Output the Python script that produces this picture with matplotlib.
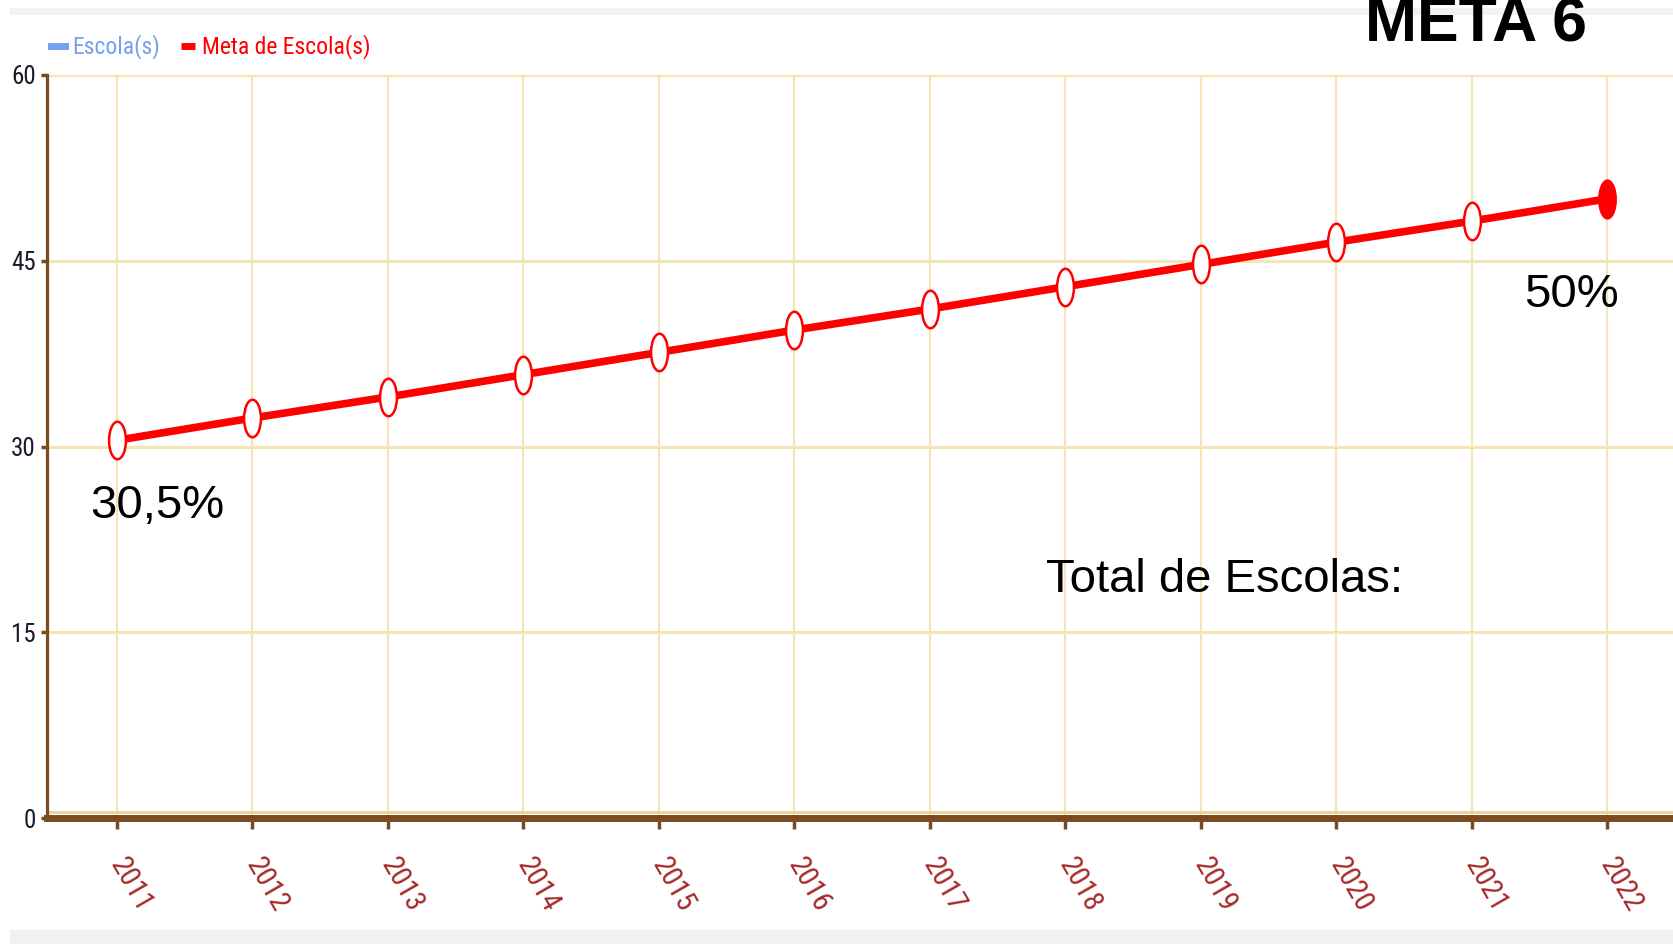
import matplotlib
matplotlib.use("Agg")
import matplotlib.pyplot as plt
from matplotlib.path import Path
from matplotlib.transforms import Affine2D
from matplotlib.patches import Rectangle

# ---- data ----
years = [2011, 2012, 2013, 2014, 2015, 2016, 2017, 2018, 2019, 2020, 2021, 2022]
meta_values = [30.5, 32.3, 34.0, 35.8, 37.6, 39.4, 41.1, 42.9, 44.7, 46.5, 48.2, 50.0]
escola_values = []          # no school values drawn
y_ticks = [0, 15, 30, 45, 60]
series_labels = ["Escola(s)", "Meta de Escola(s)"]
title_text = "META 6"
first_label = "30,5%"
last_label = "50%"
total_label = "Total de Escolas:"

W, H, DPI = 1674, 944, 100
fig = plt.figure(figsize=(W / DPI, H / DPI), dpi=DPI, facecolor="white")

# background bands
fig.patches.append(Rectangle((10 / W, 1 - 15 / H), 1, 7 / H, transform=fig.transFigure,
                             facecolor="#f2f2f2", edgecolor="none", zorder=0))
fig.patches.append(Rectangle((10 / W, 0), 1, 14 / H, transform=fig.transFigure,
                             facecolor="#f2f2f2", edgecolor="none", zorder=0))

ax_left, ax_right = 47 / W, 1.0
ax_top, ax_bottom = 1 - 75 / H, 1 - 818 / H
ax = fig.add_axes([ax_left, ax_bottom, ax_right - ax_left, ax_top - ax_bottom])
ax.set_facecolor("white")

px_per_year = 135.5
ax.set_xlim(2011 - (117 - 47) / px_per_year, 2022 + (1674 - 1607) / px_per_year)
ax.set_ylim(0, 60)

grid_c = "#f5e4b6"
ax.set_xticks(years)
ax.set_yticks(y_ticks)
for y in y_ticks[1:]:
    ax.axhline(y, color=grid_c, lw=2.2 if y < 60 else 3, zorder=1)
for x in years:
    ax.axvline(x, color=grid_c, lw=1.5, zorder=1)

brown = "#7b4a1e"
for s in ["top", "right"]:
    ax.spines[s].set_visible(False)
ax.spines["left"].set_color(brown)
ax.spines["left"].set_linewidth(2.3)
ax.spines["bottom"].set_color(brown)
ax.spines["bottom"].set_linewidth(5)
ax.axhline(0.45, color="#ecd3a6", lw=2.2, zorder=2)

narrow = ["Liberation Sans Narrow", "Roboto Condensed", "DejaVu Sans"]
ax.set_xticklabels([str(y) for y in years], rotation=-60, ha="left", va="center",
                   rotation_mode="anchor", color="#a52a2a", fontsize=21, family=narrow,
                   fontstretch="condensed")
ax.set_yticklabels([str(v) for v in y_ticks], color="#1a1a2a", fontsize=18, family=narrow,
                   fontstretch="condensed")
ax.tick_params(axis="x", length=8, width=2.5, color=brown, pad=22)
ax.tick_params(axis="y", length=4, width=2.5, color=brown, pad=4)

# ellipse marker
ell = Path.unit_circle().transformed(Affine2D().scale(0.45, 1.0))

ax.plot(years[:0], escola_values, color="#74a0ef", lw=4, label=series_labels[0])
ax.plot(years, meta_values, color="#ff0000", lw=5.5, zorder=4, label=series_labels[1],
        solid_capstyle="butt")
ax.plot(years[:-1], meta_values[:-1], linestyle="none", marker=ell, markersize=27,
        markerfacecolor="white", markeredgecolor="#ff0000", markeredgewidth=1.8, zorder=5)
ax.plot(years[-1:], meta_values[-1:], linestyle="none", marker=ell, markersize=28,
        markerfacecolor="#ff0000", markeredgecolor="#ff0000", zorder=5)

leg = fig.legend(loc="center left", bbox_to_anchor=(51 / W, 1 - 47 / H), ncol=2,
                 frameon=False, handlelength=0.6, handletextpad=0.3, columnspacing=0.9,
                 borderpad=0, borderaxespad=0, labelcolor="linecolor",
                 prop={"family": narrow, "size": 17, "stretch": "condensed"})
for h in leg.legend_handles:
    h.set_linewidth(5)

big = ["Liberation Sans", "DejaVu Sans"]
fig.text(1476 / W, 1 - 42 / H, title_text, ha="center", va="baseline", fontsize=45,
         fontweight="bold", family=big, color="black", zorder=10)
ax.text(years[0] + 0.30, 25.2, first_label, ha="center", va="center", fontsize=34,
        family=big, color="black")
ax.text(years[-1] - 0.26, 42.2, last_label, ha="center", va="center", fontsize=34,
        family=big, color="black")
ax.text(2019.18, 19.2, total_label, ha="center", va="center", fontsize=34,
        family=big, color="black")

fig.savefig("out.png", dpi=DPI, facecolor="white")
